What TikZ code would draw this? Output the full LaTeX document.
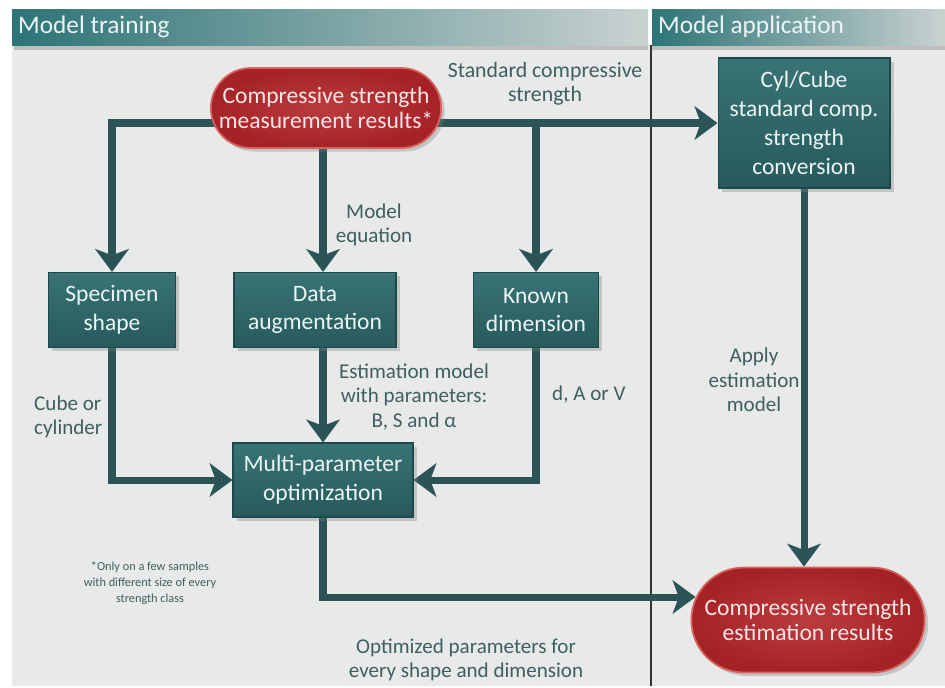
\documentclass[tikz,border=0pt]{standalone}
\usepackage{fontspec}
\setmainfont{Carlito}
\usetikzlibrary{arrows.meta,shapes.misc,shadows}

\definecolor{boxteal}{HTML}{2E6C6E}
\definecolor{boxdark}{HTML}{275A5C}
\definecolor{linkcol}{HTML}{2B5456}
\definecolor{labelcol}{HTML}{3F5F60}
\definecolor{resred}{HTML}{B3262A}
\definecolor{resedge}{HTML}{D8625E}
\definecolor{panel}{HTML}{E8E9E9}
\definecolor{headlight}{HTML}{C9D2D1}
\definecolor{headteal}{HTML}{2D7476}

\pgfdeclarelayer{bg}
\pgfdeclarelayer{links}
\pgfsetlayers{bg,links,main}

\begin{document}
\begin{tikzpicture}[x=0.02cm,y=-0.02cm,
    >={Stealth[length=13pt,width=19pt,inset=3.5pt]},
    box/.style={rectangle,draw=boxdark!80!black,line width=0.6pt,
      top color=boxteal!95!white,bottom color=boxdark,text=white!92!teal,
      align=center,font=\fontsize{13.4}{16.4}\selectfont,
      drop shadow={shadow xshift=2pt,shadow yshift=-2pt,opacity=0.35}},
    result/.style={rounded rectangle,draw=resedge,line width=1pt,
      inner color=resred!90!white,outer color=resred!92!black,text=white!90!red,
      align=center,font=\fontsize{13.4}{14.6}\selectfont,
      drop shadow={shadow xshift=2pt,shadow yshift=-2pt,opacity=0.35}},
    link/.style={draw=linkcol,line width=4pt},
    lbl/.style={text=labelcol,align=center,font=\fontsize{12}{14}\selectfont},
    head/.style={text=white!92!teal,anchor=west,font=\fontsize{14.4}{16}\selectfont}]

  % panels and header bars
  \begin{pgfonlayer}{bg}
    \fill[white] (0,0) rectangle (945,686);
    \fill[panel] (12,45) rectangle (945,686);
    \fill[black,opacity=0.18] (14,45) rectangle (648,50);
    \fill[black,opacity=0.18] (652,45) rectangle (945,50);
    \shade[left color=headteal,right color=headlight] (12,9) rectangle (648,45);
    \shade[left color=headteal,right color=headlight] (652,9) rectangle (945,45);
    \draw[black!80,line width=0.8pt] (651,45) -- (651,686);
  \end{pgfonlayer}
  \node[head] (train) at (12,27) {Model training};
  \node[head] (apply) at (652,27) {Model application};

  % nodes
  \node[result,minimum width=4.84cm,minimum height=1.6cm] (meas) at (326,108)
    {Compressive strength\\measurement results*};
  \node[box,minimum width=3.44cm,minimum height=2.6cm] (conv) at (804,123)
    {Cyl/Cube\\standard comp.\\strength\\conversion};
  \node[box,minimum width=2.54cm,minimum height=1.5cm] (shape) at (112,310)
    {Specimen\\shape};
  \node[box,minimum width=3.24cm,minimum height=1.5cm] (augm) at (315,310)
    {Data\\augmentation};
  \node[box,minimum width=2.5cm,minimum height=1.5cm] (dim) at (536,310)
    {Known\\dimension};
  \node[box,minimum width=3.6cm,minimum height=1.48cm] (optim) at (323,480)
    {Multi-parameter\\optimization};
  \node[result,minimum width=4.9cm,minimum height=2.1cm] (estim) at (808,620)
    {Compressive strength\\estimation results};

  % connectors
  \begin{pgfonlayer}{links}
    \path[link,->] (meas.center |- conv.west) -- (conv.west);
    \path[link,->] (meas.center |- conv.west) -| (shape.north);
    \path[link,->] (dim.north |- conv.west) -- (dim.north);
    \path[link,->] (meas.south -| optim.north) -- (augm.north -| optim.north);
    \path[link,->] (shape.south) |- (optim.west);
    \path[link,->] (augm.south -| optim.north) -- (optim.north);
    \path[link,->] (dim.south) |- (optim.east);
    \path[link,->] (optim.south) |- ([xshift=0.1cm,yshift=0.46cm]estim.west);
    \path[link,->] (conv.south) -- (conv.south |- estim.north);
  \end{pgfonlayer}

  % labels
  \node[lbl,font=\fontsize{12.4}{14}\selectfont] (stdlbl) at (545,84)
    {Standard compressive\\strength};
  \node[lbl] (eqlbl) at (374,225) {Model\\equation};
  \node[lbl,anchor=west,align=left] (cubelbl) at (28,417) {Cube or\\cylinder};
  \node[lbl] (parlbl) at (414,397) {Estimation model\\with parameters:\\B, S and α};
  \node[lbl,anchor=west] (dimlbl) at (546,395) {d, A or V};
  \node[lbl] (applbl) at (754,380) {Apply\\estimation\\model};
  \node[lbl] (optlbl) at (466,660) {Optimized parameters for\\every shape and dimension};
  \node[lbl,font=\fontsize{7}{9}\selectfont] (note) at (150,583)
    {*Only on a few samples\\with different size of every\\strength class};

  \useasboundingbox (0,0) rectangle (945,686);
\end{tikzpicture}
\end{document}
